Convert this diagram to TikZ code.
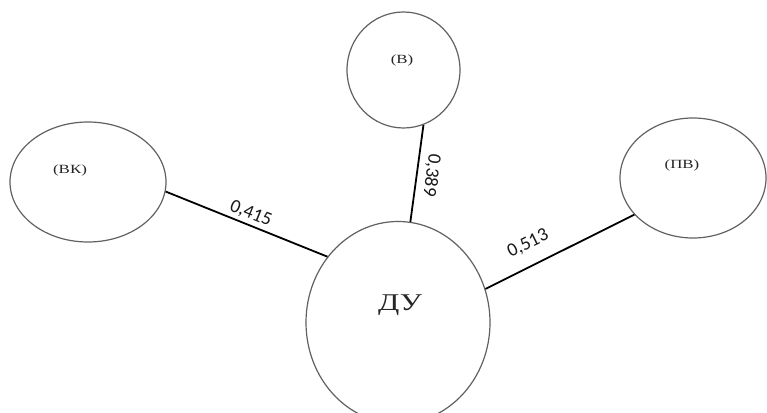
\documentclass[tikz,border=0pt]{standalone}
\usepackage{fontspec}
\setmainfont{Liberation Serif}
\newfontfamily\numfont{Carlito}
\usetikzlibrary{shapes.geometric}
\begin{document}
\begin{tikzpicture}[x=1pt,y=1pt,
  blob/.style={ellipse, draw=black!62, line width=1.2pt, inner sep=0pt},
  edge/.style={draw=black, line width=1.8pt},
  wt/.style={font=\numfont\fontsize{19}{19}\selectfont, inner sep=2pt, text=black!90},
  lbl/.style={font=\fontsize{12.5}{12.5}\selectfont, inner sep=0pt, text=black!85}]
\useasboundingbox (0,0) rectangle (767,412);
\fill[white] (0,0) rectangle (767,412);
\node[blob, minimum width=156pt, minimum height=120pt] (vk) at (88,230) {};
\node[blob, minimum width=113pt, minimum height=116pt] (v) at (403.5,342) {};
\node[blob, minimum width=146pt, minimum height=120pt] (pv) at (693,234) {};
\node[blob, minimum width=184pt, minimum height=202pt] (du) at (398,89.5) {};
\node[lbl] (tvk) at (70,242) {\scalebox{1.35}[1]{(ВК)}};
\node[lbl] (tv) at (402,352) {\scalebox{1.35}[1]{(В)}};
\node[lbl] (tpv) at (682,247) {\scalebox{1.35}[1]{(ПВ)}};
\node[lbl, font=\fontsize{24}{24}\selectfont] (tdu) at (400,107) {\scalebox{1.3}[1]{ДУ}};
\draw[edge] (vk.-7) -- (du.137) node[wt, midway, sloped, above=1pt] {0,415};
\draw[edge] (v.-70) -- (du.83) node[wt, midway, sloped, allow upside down, above=4pt] {0,389};
\draw[edge] (du.21.5) -- (pv.212) node[wt, pos=0.35, sloped, above=11pt] {0,513};
\end{tikzpicture}
\end{document}
